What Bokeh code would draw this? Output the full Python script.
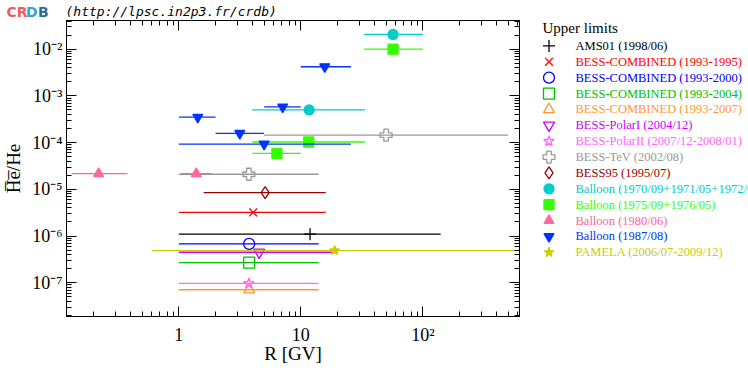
from bokeh.plotting import figure
from bokeh.layouts import column, row
from bokeh.models import (Range1d, LogAxis, LogTicker, CustomJSTickFormatter,
                          ColumnDataSource)
from bokeh.core.properties import value
from bokeh.embed import file_html
from bokeh.resources import INLINE

# ---------------- data ----------------
labels = [
    "AMS01 (1998/06)",
    "BESS-COMBINED (1993-1995)",
    "BESS-COMBINED (1993-2000)",
    "BESS-COMBINED (1993-2004)",
    "BESS-COMBINED (1993-2007)",
    "BESS-PolarI (2004/12)",
    "BESS-PolarII (2007/12-2008/01)",
    "BESS-TeV (2002/08)",
    "BESS95 (1995/07)",
    "Balloon (1970/09+1971/05+1972/09)",
    "Balloon (1975/09+1976/05)",
    "Balloon (1980/06)",
    "Balloon (1987/08)",
    "PAMELA (2006/07-2009/12)",
]
colors = ["#000000", "#ff0000", "#0000ff", "#00c000", "#ff9933", "#cc00ff",
          "#ff66ff", "#999999", "#990000", "#00cccc", "#33ff00", "#ff6699",
          "#0033ff", "#cccc00"]
label_colors = ["#000000"] + colors[1:]
markers = ["cross", "x", "circle", "square", "triangle", "inverted_triangle",
           "star", "plus", "diamond", "circle", "square", "triangle",
           "inverted_triangle", "star"]
filled = [False, False, False, False, False, False, False, False, False,
          True, True, True, True, True]

r_center = [
    [11.9], [4.07], [3.77], [3.77], [3.77], [4.55], [3.75], [3.75, 50.0],
    [5.1], [11.7, 57.0], [6.36, 11.6, 57.0], [0.22, 1.39],
    [1.43, 3.16, 5.0, 7.1, 15.7], [18.9],
]
ratio = [
    [1.1e-6], [3.2e-6], [6.8e-7], [2.7e-7], [7.1e-8], [4.5e-7], [9.7e-8],
    [2.1e-5, 1.44e-4], [8.5e-6], [5.0e-4, 2.06e-2], [5.9e-5, 1.03e-4, 1.0e-2],
    [2.16e-5, 2.16e-5], [3.5e-4, 1.58e-4, 9.3e-5, 5.8e-4, 4.2e-3], [4.9e-7],
]
r_low = [
    [1.0], [1.0], [1.0], [1.0], [1.0], [1.0], [1.0], [1.0, 5.0], [1.6],
    [4.0, 33.0], [4.0, 4.0, 33.0], [0.133, 1.04], [1.0, 2.0, 1.0, 5.0, 10.0],
    [0.6],
]
r_high = [
    [140.0], [16.0], [14.0], [14.0], [14.0], [20.0], [14.0], [14.0, 500.0],
    [16.0], [33.5, 100.0], [10.0, 33.5, 100.0], [0.38, 1.86],
    [2.0, 5.0, 25.7, 10.0, 25.7], [600.0],
]
x_limits = (0.12, 620.0)
y_limits = (1.9e-8, 0.041)

FONT = "Liberation Serif"
PAGE_W = 748
HEAD_H = 20
MAIN_W, MAIN_H = 524, 346
LEG_W = PAGE_W - MAIN_W

SUP_JS = """
const sup = {"-": "\u207b", "0": "\u2070", "1": "\u00b9", "2": "\u00b2",
             "3": "\u00b3", "4": "\u2074", "5": "\u2075", "6": "\u2076",
             "7": "\u2077", "8": "\u2078", "9": "\u2079"};
const e = Math.round(Math.log10(tick));
if (e == 0) return "1";
if (e == 1) return "10";
return "10" + String(e).split("").map(c => sup[c]).join("");
"""


def bare(fig):
    fig.xaxis.visible = False
    fig.yaxis.visible = False
    fig.grid.visible = False
    fig.outline_line_color = None
    fig.background_fill_color = "white"
    fig.border_fill_color = "white"


def marker_size(m, is_filled):
    if m in ("cross", "diamond", "plus"):
        return 12
    return 10 if is_filled else 11


# ---------------- header ----------------
head = figure(width=PAGE_W, height=HEAD_H, x_range=Range1d(0, PAGE_W),
              y_range=Range1d(HEAD_H, 0), output_backend="svg",
              toolbar_location=None, min_border=0)
bare(head)
logo_parts = ["CR", "D", "B"]
logo_colors = ["#f25a5a", "#3a9fd2", "#2b6d8c"]
head.text(x=[6, 25.5, 37.5], y=[11.5, 11.5, 11.5], text=logo_parts,
          text_color=logo_colors, text_font=value("DejaVu Sans"),
          text_font_style="bold", text_font_size=value("14px"),
          text_baseline="middle")
head.text(x=[65], y=[10.5], text=["(http://lpsc.in2p3.fr/crdb)"],
          text_color="black", text_font=value("DejaVu Sans Mono"),
          text_font_style="italic", text_font_size=value("13px"),
          text_baseline="middle")

# ---------------- main plot ----------------
p = figure(width=MAIN_W, height=MAIN_H, x_axis_type="log", y_axis_type="log",
           x_range=Range1d(*x_limits), y_range=Range1d(*y_limits),
           output_backend="svg", toolbar_location=None,
           min_border_left=65, min_border_right=5, min_border_top=0,
           min_border_bottom=43)
p.grid.visible = False
p.outline_line_color = "black"
p.background_fill_color = "white"
p.border_fill_color = "white"


def style_axis(ax, show_labels=True):
    ax.ticker = LogTicker(num_minor_ticks=10)
    ax.major_tick_in = 10
    ax.major_tick_out = 0
    ax.minor_tick_in = 5
    ax.minor_tick_out = 0
    ax.axis_line_color = "black"
    ax.major_tick_line_color = "black"
    ax.minor_tick_line_color = "black"
    if show_labels:
        ax.formatter = CustomJSTickFormatter(code=SUP_JS)
        ax.major_label_text_font = FONT
        ax.major_label_text_font_size = "18px"
        ax.major_label_text_color = "black"
        ax.axis_label_text_font = FONT
        ax.axis_label_text_font_size = "19px"
        ax.axis_label_text_font_style = "normal"
        ax.axis_label_text_color = "black"
    else:
        ax.formatter = CustomJSTickFormatter(code="return ''")
        ax.major_label_text_font_size = "0px"
        ax.major_label_standoff = 0


style_axis(p.xaxis[0])
style_axis(p.yaxis[0])
p.xaxis[0].axis_label = "R [GV]"
p.xaxis[0].major_label_standoff = 8
p.xaxis[0].axis_label_standoff = -5
p.yaxis[0].axis_label = "H\u0305e\u0305/He"
p.yaxis[0].major_label_standoff = 4
p.yaxis[0].axis_label_standoff = 5

top = LogAxis()
style_axis(top, show_labels=False)
p.add_layout(top, "above")
right = LogAxis()
style_axis(right, show_labels=False)
p.add_layout(right, "right")

for i in range(len(labels)):
    c = colors[i]
    p.segment(x0=r_low[i], y0=ratio[i], x1=r_high[i], y1=ratio[i],
              line_color=c, line_width=1.3)
    p.scatter(x=r_center[i], y=ratio[i], marker=markers[i],
              size=marker_size(markers[i], filled[i]),
              line_color=c, line_width=1.3,
              fill_color=c, fill_alpha=1.0 if filled[i] else 0.0)

# ---------------- legend panel ----------------
leg = figure(width=LEG_W, height=MAIN_H, x_range=Range1d(MAIN_W, PAGE_W),
             y_range=Range1d(HEAD_H + MAIN_H, HEAD_H), output_backend="svg",
             toolbar_location=None, min_border=0)
bare(leg)
first_row, row_step = 49.7, 18.56
rows_y = [first_row + row_step * i for i in range(len(labels))]
src = ColumnDataSource(dict(
    x=[548.5] * len(labels), tx=[575] * len(labels), y=rows_y, text=labels,
    marker=markers, color=colors, tcolor=label_colors,
    falpha=[1.0 if f else 0.0 for f in filled],
    size=[marker_size(m, f) for m, f in zip(markers, filled)],
))
leg.scatter(x="x", y="y", marker="marker", size="size", line_color="color",
            fill_color="color", fill_alpha="falpha", line_width=1.3, source=src)
leg.text(x="tx", y="y", text="text", text_color="tcolor",
         text_font=value(FONT), text_font_size=value("12.5px"),
         text_baseline="middle", source=src)
leg.text(x=[542], y=[28.5], text=["Upper limits"], text_color="black",
         text_font=value(FONT), text_font_size=value("15px"),
         text_baseline="middle")

layout = column(head, row(p, leg, spacing=0), spacing=0)
open("out.html", "w").write(file_html(layout, INLINE))
